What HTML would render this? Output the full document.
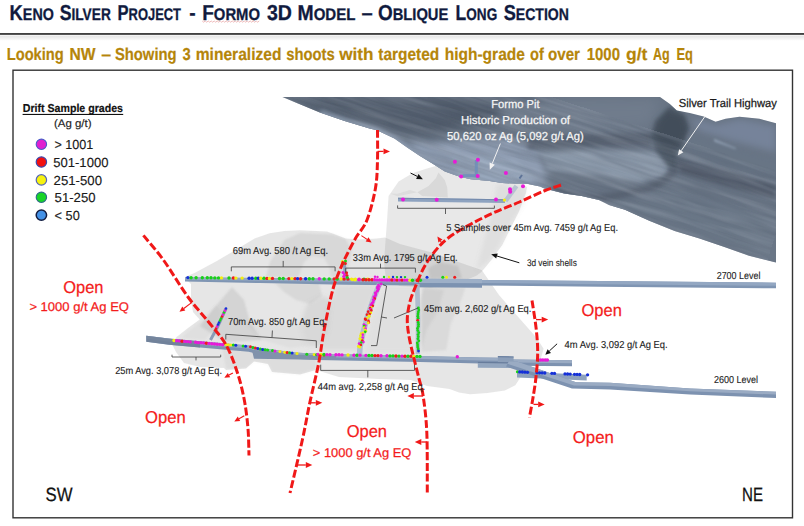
<!DOCTYPE html><html><head><meta charset="utf-8"><title>Keno Silver Project</title>
<style>html,body{margin:0;padding:0;background:#fff;overflow:hidden}svg{display:block}text{font-family:"Liberation Sans",sans-serif;white-space:pre;text-rendering:geometricPrecision}</style></head><body>
<svg width="804" height="526" viewBox="0 0 804 526">
<defs>
<filter id="b1" x="-20%" y="-20%" width="140%" height="140%"><feGaussianBlur stdDeviation="1"/></filter>
<filter id="b2" x="-20%" y="-20%" width="140%" height="140%"><feGaussianBlur stdDeviation="2"/></filter>
<filter id="b3" x="-20%" y="-20%" width="140%" height="140%"><feGaussianBlur stdDeviation="3.5"/></filter>
<filter id="b5" x="-30%" y="-30%" width="160%" height="160%"><feGaussianBlur stdDeviation="6"/></filter>
<filter id="soft" x="-5%" y="-5%" width="110%" height="110%"><feGaussianBlur stdDeviation="0.6"/></filter>
<filter id="tx" x="0" y="0" width="100%" height="100%"><feTurbulence type="fractalNoise" baseFrequency="0.012 0.16" numOctaves="3" seed="4" result="n"/><feColorMatrix type="matrix" values="0 0 0 0 0.1  0 0 0 0 0.13  0 0 0 0 0.18  1.6 0 0 0 -0.55"/></filter>
<filter id="tx2" x="0" y="0" width="100%" height="100%"><feTurbulence type="fractalNoise" baseFrequency="0.012 0.16" numOctaves="3" seed="11" result="n"/><feColorMatrix type="matrix" values="0 0 0 0 0.75  0 0 0 0 0.8  0 0 0 0 0.88  1.6 0 0 0 -0.6"/></filter>
<linearGradient id="hr" x1="0" y1="0" x2="0" y2="1"><stop offset="0" stop-color="#e4e4e4"/><stop offset="1" stop-color="#fbfbfb"/></linearGradient>

<clipPath id="tc"><polygon points="282.4,97 660,97 669.9,103.9 676.8,110.5 689.8,112.9 703.7,116.4 715.6,121.8 725.6,118.8 739.5,116.8 759.4,118.8 776,123.2 776,262.5 749,255.8 724.4,247 699.5,238.4 674.6,231 649.8,221 624.9,209.8 609,205 599,200 581.7,196 564.3,193.5 544.4,188.5 540,186.5 527,183.8 514.6,183.6 502.2,183 489.8,181 471,179.2 459.8,176.7 444.9,171.5 432.4,163.6 420,156 406.8,147.2 394.4,138.5 377,130.3 369.5,128.5 344.6,121 319.8,112.4"/></clipPath>
</defs>
<rect width="804" height="526" fill="#fff"/>
<text x="9.6" y="20.3" fill="#101a3e" stroke="#101a3e" stroke-width="0.3" font-weight="bold" textLength="44.2" lengthAdjust="spacingAndGlyphs"><tspan font-size="21.6">K</tspan><tspan font-size="16.8">ENO</tspan></text>
<text x="59.7" y="20.3" fill="#101a3e" stroke="#101a3e" stroke-width="0.3" font-weight="bold" textLength="51.1" lengthAdjust="spacingAndGlyphs"><tspan font-size="21.6">S</tspan><tspan font-size="16.8">ILVER</tspan></text>
<text x="117.5" y="20.3" fill="#101a3e" stroke="#101a3e" stroke-width="0.3" font-weight="bold" textLength="63.5" lengthAdjust="spacingAndGlyphs"><tspan font-size="21.6">P</tspan><tspan font-size="16.8">ROJECT</tspan></text>
<text x="189.2" y="20.3" font-size="21.6" fill="#101a3e" stroke="#101a3e" stroke-width="0.25" font-weight="bold" textLength="6.4" lengthAdjust="spacingAndGlyphs" >-</text>
<text x="202.2" y="20.3" fill="#101a3e" stroke="#101a3e" stroke-width="0.3" font-weight="bold" textLength="57.8" lengthAdjust="spacingAndGlyphs"><tspan font-size="21.6">F</tspan><tspan font-size="16.8">ORMO</tspan></text>
<text x="267" y="20.3" fill="#101a3e" stroke="#101a3e" stroke-width="0.3" font-weight="bold" font-size="21.6" textLength="25" lengthAdjust="spacingAndGlyphs">3D</text>
<text x="297.5" y="20.3" fill="#101a3e" stroke="#101a3e" stroke-width="0.3" font-weight="bold" textLength="57.9" lengthAdjust="spacingAndGlyphs"><tspan font-size="21.6">M</tspan><tspan font-size="16.8">ODEL</tspan></text>
<text x="361.6" y="20.3" font-size="21.6" fill="#101a3e" stroke="#101a3e" stroke-width="0.25" font-weight="bold" textLength="11.2" lengthAdjust="spacingAndGlyphs" >–</text>
<text x="378.0" y="20.3" fill="#101a3e" stroke="#101a3e" stroke-width="0.3" font-weight="bold" textLength="70.3" lengthAdjust="spacingAndGlyphs"><tspan font-size="21.6">O</tspan><tspan font-size="16.8">BLIQUE</tspan></text>
<text x="455.6" y="20.3" fill="#101a3e" stroke="#101a3e" stroke-width="0.3" font-weight="bold" textLength="41.6" lengthAdjust="spacingAndGlyphs"><tspan font-size="21.6">L</tspan><tspan font-size="16.8">ONG</tspan></text>
<text x="503.7" y="20.3" fill="#101a3e" stroke="#101a3e" stroke-width="0.3" font-weight="bold" textLength="65.3" lengthAdjust="spacingAndGlyphs"><tspan font-size="21.6">S</tspan><tspan font-size="16.8">ECTION</tspan></text>
<polyline points="202.2,21.0 203.7,22.2 205.2,21.0 206.7,22.2 208.2,21.0 209.7,22.2 211.2,21.0 212.7,22.2 214.2,21.0 215.7,22.2 217.2,21.0 218.7,22.2 220.2,21.0 221.7,22.2 223.2,21.0 224.7,22.2 226.2,21.0 227.7,22.2 229.2,21.0 230.7,22.2 232.2,21.0 233.7,22.2 235.2,21.0 236.7,22.2 238.2,21.0 239.7,22.2 241.2,21.0 242.7,22.2 244.2,21.0 245.7,22.2 247.2,21.0 248.7,22.2 250.2,21.0 251.7,22.2 253.2,21.0 254.7,22.2 256.2,21.0 257.7,22.2 259.2,21.0" fill="none" stroke="#e8a0a0" stroke-width="0.7"/>
<rect x="0" y="33.1" width="804" height="1.7" fill="#2e2e2e"/>
<rect x="0" y="35.6" width="804" height="4.8" fill="url(#hr)"/>
<text x="6.7" y="59.9" font-size="17.3" fill="#b5850a" stroke="#b5850a" stroke-width="0.2" font-weight="bold" textLength="57.1" lengthAdjust="spacingAndGlyphs" >Looking</text>
<text x="69.5" y="59.9" font-size="17.3" fill="#b5850a" stroke="#b5850a" stroke-width="0.2" font-weight="bold" textLength="26.0" lengthAdjust="spacingAndGlyphs" >NW</text>
<text x="101.2" y="59.9" font-size="17.3" fill="#b5850a" stroke="#b5850a" stroke-width="0.2" font-weight="bold" textLength="9.9" lengthAdjust="spacingAndGlyphs" >–</text>
<text x="114.9" y="59.9" font-size="17.3" fill="#b5850a" stroke="#b5850a" stroke-width="0.2" font-weight="bold" textLength="61.7" lengthAdjust="spacingAndGlyphs" >Showing</text>
<text x="182.5" y="59.9" font-size="17.3" fill="#b5850a" stroke="#b5850a" stroke-width="0.2" font-weight="bold" textLength="8.2" lengthAdjust="spacingAndGlyphs" >3</text>
<text x="195.7" y="59.9" font-size="17.3" fill="#b5850a" stroke="#b5850a" stroke-width="0.2" font-weight="bold" textLength="85.8" lengthAdjust="spacingAndGlyphs" >mineralized</text>
<text x="286.2" y="59.9" font-size="17.3" fill="#b5850a" stroke="#b5850a" stroke-width="0.2" font-weight="bold" textLength="48.5" lengthAdjust="spacingAndGlyphs" >shoots</text>
<text x="339.2" y="59.9" font-size="17.3" fill="#b5850a" stroke="#b5850a" stroke-width="0.2" font-weight="bold" textLength="34.3" lengthAdjust="spacingAndGlyphs" >with</text>
<text x="378.3" y="59.9" font-size="17.3" fill="#b5850a" stroke="#b5850a" stroke-width="0.2" font-weight="bold" textLength="60.9" lengthAdjust="spacingAndGlyphs" >targeted</text>
<text x="444.7" y="59.9" font-size="17.3" fill="#b5850a" stroke="#b5850a" stroke-width="0.2" font-weight="bold" textLength="80.2" lengthAdjust="spacingAndGlyphs" >high-grade</text>
<text x="530.0" y="59.9" font-size="17.3" fill="#b5850a" stroke="#b5850a" stroke-width="0.2" font-weight="bold" textLength="13.8" lengthAdjust="spacingAndGlyphs" >of</text>
<text x="548.0" y="59.9" font-size="17.3" fill="#b5850a" stroke="#b5850a" stroke-width="0.2" font-weight="bold" textLength="32.0" lengthAdjust="spacingAndGlyphs" >over</text>
<text x="586.7" y="59.9" font-size="17.3" fill="#b5850a" stroke="#b5850a" stroke-width="0.2" font-weight="bold" textLength="33.3" lengthAdjust="spacingAndGlyphs" >1000</text>
<text x="626.0" y="59.9" font-size="17.3" fill="#b5850a" stroke="#b5850a" stroke-width="0.2" font-weight="bold" textLength="21.4" lengthAdjust="spacingAndGlyphs" >g/t</text>
<text x="653.0" y="59.9" font-size="17.3" fill="#b5850a" stroke="#b5850a" stroke-width="0.2" font-weight="bold" textLength="16.7" lengthAdjust="spacingAndGlyphs" >Ag</text>
<text x="676.5" y="59.9" font-size="17.3" fill="#b5850a" stroke="#b5850a" stroke-width="0.2" font-weight="bold" textLength="16.5" lengthAdjust="spacingAndGlyphs" >Eq</text>
<rect x="13" y="70.2" width="779.5" height="447.6" fill="#fff" stroke="#333" stroke-width="1.4"/>
<g id="shells">
<polygon points="388.6,196 398.6,181.4 413,173 427,168.6 436,166 460,175 482,178 502,180 521,183.5 527,187 526,193 523,201 519,211.4 510.7,228 502.3,245 491.8,259.5 481.4,272 476,276 455,284 430,288 400,286 386,280 384,262 385.7,238.6 387,221.4" fill="#8c8c8c" fill-opacity="0.205" filter="url(#soft)" />
<polygon points="185,277 195,272.8 217.3,260.8 239.7,247.4 254.6,238.4 269.6,233.2 284.5,231 300,230.2 327,231.5 334,234 345.6,238.6 359.5,239.4 377,238.6 385,237.5 400,244 430,252 464,264 481.7,270 499,295 516,314.6 533.7,334.4 540.4,343.7 543.6,348.7 541,358 530,366 522,375 515.3,385.3 504.8,390.5 487.4,393.1 470,394.2 459,392.5 449.5,389 427,386 411,380 379,379 339,377 316,370 300,374.5 272,372 268,364 254,361.5 246,368.5 226,370 224,368 200,367 184,363 176,352 172,344 176.6,337 188,328 199.7,319.4 193,312 191,300 191,284 186,279" fill="#8c8c8c" fill-opacity="0.215" filter="url(#soft)" />
<polygon points="284.5,240 300,233 333,234.5 345.6,239 352,250 346,277 266,277 270,262" fill="#8c8c8c" fill-opacity="0.17" filter="url(#b1)" />
<polygon points="298,278 304,262 312,256 324,258 330,268 331,278" fill="#ffffff" fill-opacity="0.3" filter="url(#b1)" />
<polygon points="232,287 244,300 250,322 262,340 225,342 200,326 214,308" fill="#8c8c8c" fill-opacity="0.2" filter="url(#b1)" />
<polygon points="275,283 319,283 322,296 310,304 296,300 284,292" fill="#8c8c8c" fill-opacity="0.16" filter="url(#b1)" />
<polygon points="307,304 322,296 331,300 328,330 322,346 306,346 300,325" fill="#8c8c8c" fill-opacity="0.16" filter="url(#b2)" />
<polygon points="246,324 300,325 306,346 290,348 262,340" fill="#8c8c8c" fill-opacity="0.08" filter="url(#b1)" />
<polygon points="336,286 378,284 366,315 360,350 322,350 328,310" fill="#8c8c8c" fill-opacity="0.12" filter="url(#b2)" />
<polygon points="386,286 414,286 414,352 364,352 372,318" fill="#8c8c8c" fill-opacity="0.07" filter="url(#b2)" />
<polygon points="424.8,284 465.4,288 459.8,303.4 450.8,323.6 446.3,350 422,352 420,300" fill="#8c8c8c" fill-opacity="0.14" filter="url(#b1)" />
<polygon points="422,288 444,290 437.4,312.4 426.2,330.3 421.7,350" fill="#8c8c8c" fill-opacity="0.12" filter="url(#b1)" />
<polygon points="428,268 440,262 458,266 462,278 430,279" fill="#8c8c8c" fill-opacity="0.22" filter="url(#b1)" />
<polygon points="438.5,172.5 444.7,180 447.2,187.3 447.8,197.5 422.3,196 417.3,192.3 428.6,186 436,178" fill="#8c8c8c" fill-opacity="0.17" filter="url(#soft)" />
<polygon points="390,193.4 397.4,196.2 417.3,192.3 410,190 397.4,193.8" fill="#8c8c8c" fill-opacity="0.12" filter="url(#soft)" />
<polygon points="497,184 526,188 524,204 510,224 499,246 488,262 476,270 484,240 492,212" fill="#8c8c8c" fill-opacity="0.1" filter="url(#b2)" />
<polygon points="171,343 222,346 226,369 246,368 254,361 268,364 272,372 300,374 316,369 316,356 250,350 222,348" fill="#8c8c8c" fill-opacity="0.1" filter="url(#b1)" />
<polygon points="190,330 204,318 216,305 222,312 214,330 205,340 181,338" fill="#8c8c8c" fill-opacity="0.08" filter="url(#b1)" />
</g>
<g id="terrain">
<polygon points="282.4,97 660,97 669.9,103.9 676.8,110.5 689.8,112.9 703.7,116.4 715.6,121.8 725.6,118.8 739.5,116.8 759.4,118.8 776,123.2 776,262.5 749,255.8 724.4,247 699.5,238.4 674.6,231 649.8,221 624.9,209.8 609,205 599,200 581.7,196 564.3,193.5 544.4,188.5 540,186.5 527,183.8 514.6,183.6 502.2,183 489.8,181 471,179.2 459.8,176.7 444.9,171.5 432.4,163.6 420,156 406.8,147.2 394.4,138.5 377,130.3 369.5,128.5 344.6,121 319.8,112.4" fill="#687484"/>
<g clip-path="url(#tc)">
<polygon points="282,97 560,97 500,120 430,136 385,130 340,119 300,104" fill="#4e5967" filter="url(#b5)"/>
<polygon points="500,100 660,99 650,126 560,134 500,128" fill="#707c8c" filter="url(#b5)"/>
<path d="M320,113 L345,122 L377,131 L395,140 L420,157 L445,172 L482,181 L520,184 L545,190 L582,197 L600,201" stroke="#8c9bb0" stroke-width="7" fill="none" filter="url(#b2)"/>
<polygon points="408,140 430,143 470,140 510,140 540,152 548,182 520,186 480,182 455,179 440,172 420,158" fill="#8f9db2" filter="url(#b3)"/>
<polygon points="450,156 515,160 535,180 500,182 462,179" fill="#98a7bc" filter="url(#b2)"/>
<polygon points="528,138 600,134 652,133 652,146 600,146 528,149" fill="#566170" filter="url(#b2)"/>
<polygon points="538,153 600,150 655,152 672,162 664,176 640,182 600,176 548,170" fill="#8a98a9" filter="url(#b2)"/>
<polygon points="669.9,106.3 684.4,114.4 689.2,127.3 684,143.5 676,156.4 681,164.5 674,172 666.5,165 656,150 650.5,137 655.5,120.8" fill="#4a5462" filter="url(#b2)"/>
<polygon points="668,112 683,118 686,130 680,144 670,154 660,146 656,134 660,122" fill="#434d5a" filter="url(#b2)"/>
<path d="M676,168 Q668,182 645,189 Q620,196 598,198 Q575,196 552,187" stroke="#56616f" stroke-width="7" fill="none" filter="url(#b2)"/>
<polygon points="676,158 730,172 776,186 776,199 726,186 680,173" fill="#4f5967" filter="url(#b2)"/>
<polygon points="692,118 716,125 740,119 776,126 776,152 730,140 698,130" fill="#76839a" filter="url(#b3)"/>
<polygon points="714,139 736,148 735,151.5 714,142.5" fill="#9aa9bd" filter="url(#b1)"/>
<polygon points="690,134 776,160 776,178 720,165 688,150" fill="#687485" filter="url(#b2)"/>
<polygon points="604,206 672,190 776,214 776,263" fill="#6b7787" filter="url(#b2)"/>
<rect x="280" y="95" width="500" height="170" filter="url(#tx)" opacity="0.5" transform="rotate(18 530 180)"/>
<rect x="280" y="95" width="500" height="170" filter="url(#tx2)" opacity="0.22" transform="rotate(18 530 180)"/>
</g></g>
<polygon points="185.0,277.3 260.0,278.0 345.0,278.8 414.0,279.4 482.0,280.0 482.0,280.0 600.0,281.1 776.0,282.7 776.0,288.3 600.0,286.7 482.0,285.6 482.0,285.6 414.0,285.4 345.0,284.8 260.0,283.1 185.0,281.6" fill="#7f95b3"/>
<polygon points="185.0,277.3 260.0,278.0 345.0,278.8 414.0,279.4 482.0,280.0 482.0,280.0 600.0,281.1 776.0,282.7 776.0,285.8 600.0,284.2 482.0,283.1 482.0,283.1 414.0,282.7 345.0,282.1 260.0,280.8 185.0,279.7" fill="#93a7c2"/>
<polygon points="414,278.4 482,279 482,283.5 414,283" fill="#9dafc7"/>
<polygon points="414,283 482,283.5 482,287.8 414,287.2" fill="#7c92b1"/>
<polygon points="414.8,284 419.6,284 420.4,320 420,354 415.6,354 415.8,320" fill="#aab8cc" opacity="0.92"/>
<polygon points="146.3,335.7 168.6,338.6 223,343.3 248.6,345.4 260,348 294.3,352.4 317,353.8 420,355.9 480,357.4 498,357.8 498,363.8 480,363.6 420,361.9 317,360 294.3,358.8 260,354.6 248.6,351.8 223,349.4 168.6,344.8 146.3,341.8" fill="#7d92b0"/>
<polygon points="146.3,335.7 168.6,338.6 223,343.3 248.6,345.4 260,348.0 294.3,352.4 317,353.8 420,355.9 480,357.4 498,357.8 498.0,360.8 480.0,360.5 420.0,358.9 317.0,356.9 294.3,355.6 260.0,351.3 248.6,348.6 223.0,346.4 168.6,341.7 146.3,338.8" fill="#9aabc3"/>
<polygon points="146.3,335.7 172,339 200,341.4 200,347.4 172,345 146.3,341.8" fill="#6f7f96" opacity="0.85"/>
<polygon points="252,350.5 262,350 296,354.5 336,356 336,360 300,359.6 254,358.8" fill="#8092ab"/>
<polygon points="498,357.8 513.6,359.6 572,360.2 572,366.3 513.6,365.8 498,363.8" fill="#7d92b0"/>
<polygon points="498,357.8 513.6,359.6 572,360.2 572,363.2 513.6,362.6 498,360.8" fill="#9aabc3"/>
<polygon points="497.9,356 513.6,356.4 513.6,362.6 497.9,362.2" fill="#8c9fb9"/>
<polygon points="497.9,356 513.6,356.4 513.6,357.6 497.9,357.2" fill="#6d82a2"/>
<polygon points="477.8,361.8 511.8,362.4 511.8,368 477.8,367.7" fill="#93a6bf"/>
<polygon points="477.8,361.8 511.8,362.4 511.8,363.6 477.8,363" fill="#677c9c"/>
<polygon points="517,371.4 586.7,374.8 586.7,380.6 517,377.6" fill="#8ea2bd"/>
<polygon points="509,361.2 517,361.6 576,382.2 610,382.8 690,388.5 776,391.7 776,398.1 690,394.4 610,389.6 572,388.6 506,366.5" fill="#7d92b0"/>
<polygon points="509,361.2 517,361.6 576,382.2 610,382.8 690,388.5 776,391.7 776,394.6 690,391.3 610,386 574,385.4 507.5,363.8" fill="#9aabc3"/>
<path d="M379.5,284 Q366,315 360,347 L359.5,355" stroke="#a9b8cf" stroke-width="5.5" fill="none" opacity="0.85"/>
<path d="M344.4,262 L345.2,279" stroke="#8da1bd" stroke-width="3" fill="none"/>
<path d="M210.5,340 L217.5,327 L226,308.5" stroke="#8a9bb5" stroke-width="3" fill="none"/>
<polygon points="398,197.8 505,199.2 505,202.9 398,201.5" fill="#8ea3c0"/><polygon points="398,197.8 505,199.2 505,200.2 398,198.8" fill="#7389ab"/>
<path d="M505.5,201 L516.5,186" stroke="#b4c0d2" stroke-width="4.5" fill="none" opacity="0.9"/>
<path d="M519.5,178.5 L522,175" stroke="#5d7397" stroke-width="2" fill="none"/>
<rect x="474.8" y="160" width="3" height="17" fill="#6f8db8" opacity="0.85"/>
<rect x="462.5" y="174.2" width="15.3" height="3" fill="#6f8db8" opacity="0.85"/>
<g id="dots">
<circle cx="187.9" cy="277.6" r="1.7" fill="#1430d8"/>
<circle cx="191.1" cy="277.7" r="1.7" fill="#18d018"/>
<circle cx="196.1" cy="277.7" r="1.7" fill="#18d018"/>
<circle cx="202.3" cy="277.8" r="1.7" fill="#18d018"/>
<circle cx="207.3" cy="277.8" r="1.7" fill="#18d018"/>
<circle cx="211.0" cy="277.8" r="1.7" fill="#18d018"/>
<circle cx="214.8" cy="277.9" r="1.7" fill="#18d018"/>
<circle cx="218.5" cy="277.9" r="1.7" fill="#18d018"/>
<circle cx="221.5" cy="277.9" r="1.7" fill="#f2ee10"/>
<circle cx="229.0" cy="278.0" r="1.7" fill="#18d018"/>
<circle cx="233.4" cy="278.0" r="1.7" fill="#ee1c1c"/>
<circle cx="235.9" cy="278.1" r="1.7" fill="#f2ee10"/>
<circle cx="242.1" cy="278.1" r="1.7" fill="#f2ee10"/>
<circle cx="249.1" cy="278.2" r="1.7" fill="#1430d8"/>
<circle cx="252.1" cy="278.2" r="1.7" fill="#1430d8"/>
<circle cx="255.8" cy="278.3" r="1.7" fill="#18d018"/>
<circle cx="258.3" cy="278.3" r="1.7" fill="#1430d8"/>
<circle cx="260.8" cy="278.3" r="1.7" fill="#f2ee10"/>
<circle cx="264.0" cy="278.3" r="1.7" fill="#18d018"/>
<circle cx="267.0" cy="278.4" r="1.7" fill="#ee1c1c"/>
<circle cx="269.5" cy="278.4" r="1.7" fill="#f2ee10"/>
<circle cx="272.5" cy="278.4" r="1.7" fill="#ee1c1c"/>
<circle cx="279.5" cy="278.5" r="1.7" fill="#18d018"/>
<circle cx="283.2" cy="278.5" r="1.7" fill="#18d018"/>
<circle cx="288.9" cy="278.6" r="1.7" fill="#ee1c1c"/>
<circle cx="291.9" cy="278.6" r="1.7" fill="#f2ee10"/>
<circle cx="295.1" cy="278.6" r="1.7" fill="#ee1c1c"/>
<circle cx="297.6" cy="278.6" r="1.7" fill="#1430d8"/>
<circle cx="300.6" cy="278.7" r="1.7" fill="#ee1c1c"/>
<circle cx="305.6" cy="278.7" r="1.7" fill="#1430d8"/>
<circle cx="309.3" cy="278.7" r="1.7" fill="#18d018"/>
<circle cx="313.0" cy="278.8" r="1.7" fill="#18d018"/>
<circle cx="319.3" cy="278.8" r="1.7" fill="#e81ad8"/>
<circle cx="324.2" cy="278.9" r="1.7" fill="#18d018"/>
<circle cx="329.2" cy="278.9" r="1.7" fill="#18d018"/>
<circle cx="334.2" cy="279.0" r="1.7" fill="#ee1c1c"/>
<circle cx="337.2" cy="279.0" r="1.7" fill="#18d018"/>
<circle cx="341.1" cy="279.0" r="1.7" fill="#f2ee10"/>
<circle cx="344.1" cy="279.1" r="1.7" fill="#ee1c1c"/>
<circle cx="347.9" cy="279.1" r="1.7" fill="#ee1c1c"/>
<circle cx="351.6" cy="279.1" r="1.7" fill="#f2ee10"/>
<circle cx="355.3" cy="279.2" r="1.7" fill="#f2ee10"/>
<circle cx="359.1" cy="279.2" r="1.7" fill="#e81ad8"/>
<circle cx="364.0" cy="279.2" r="1.7" fill="#18d018"/>
<circle cx="367.8" cy="279.3" r="1.7" fill="#f2ee10"/>
<circle cx="352.5" cy="279.6" r="1.7" fill="#f2ee10"/>
<circle cx="355.0" cy="279.7" r="1.7" fill="#f2ee10"/>
<circle cx="359.0" cy="279.7" r="1.7" fill="#e81ad8"/>
<circle cx="363.0" cy="279.7" r="1.7" fill="#ee1c1c"/>
<circle cx="366.0" cy="279.8" r="1.7" fill="#ee1c1c"/>
<circle cx="369.0" cy="279.8" r="1.7" fill="#ee1c1c"/>
<circle cx="372.0" cy="279.8" r="1.7" fill="#ee1c1c"/>
<circle cx="374.5" cy="279.8" r="1.7" fill="#e81ad8"/>
<circle cx="377.0" cy="279.9" r="1.7" fill="#e81ad8"/>
<circle cx="379.5" cy="279.9" r="1.7" fill="#e81ad8"/>
<circle cx="382.0" cy="279.9" r="1.7" fill="#e81ad8"/>
<circle cx="384.5" cy="279.9" r="1.7" fill="#e81ad8"/>
<circle cx="387.0" cy="280.0" r="1.7" fill="#e81ad8"/>
<circle cx="389.5" cy="280.0" r="1.7" fill="#e81ad8"/>
<circle cx="392.0" cy="280.0" r="1.7" fill="#ee1c1c"/>
<circle cx="394.5" cy="280.0" r="1.7" fill="#e81ad8"/>
<circle cx="397.0" cy="280.1" r="1.7" fill="#ee1c1c"/>
<circle cx="399.5" cy="280.1" r="1.7" fill="#e81ad8"/>
<circle cx="402.0" cy="280.1" r="1.7" fill="#ee1c1c"/>
<circle cx="404.5" cy="280.1" r="1.7" fill="#e81ad8"/>
<circle cx="407.0" cy="280.1" r="1.7" fill="#e81ad8"/>
<circle cx="410.0" cy="280.2" r="1.7" fill="#f2ee10"/>
<circle cx="412.5" cy="280.2" r="1.7" fill="#18d018"/>
<circle cx="417.3" cy="280.2" r="1.7" fill="#ee1c1c"/>
<circle cx="420.4" cy="280.3" r="1.7" fill="#18d018"/>
<circle cx="375.0" cy="276.8" r="1.2" fill="#e81ad8"/>
<circle cx="377.5" cy="276.9" r="1.2" fill="#e81ad8"/>
<circle cx="384.0" cy="276.9" r="1.2" fill="#18d018"/>
<circle cx="389.0" cy="277.0" r="1.2" fill="#f2ee10"/>
<circle cx="393.0" cy="277.0" r="1.2" fill="#1430d8"/>
<circle cx="397.0" cy="277.1" r="1.2" fill="#18d018"/>
<circle cx="401.0" cy="277.1" r="1.2" fill="#1430d8"/>
<circle cx="405.0" cy="277.1" r="1.2" fill="#18d018"/>
<circle cx="427.0" cy="277.2" r="1.5" fill="#1430d8"/>
<circle cx="442.8" cy="277.2" r="1.5" fill="#18d018"/>
<circle cx="446.5" cy="277.2" r="1.5" fill="#f2ee10"/>
<circle cx="454.7" cy="277.2" r="1.5" fill="#ee1c1c"/>
<circle cx="174.0" cy="340.5" r="1.7" fill="#f2ee10"/>
<circle cx="176.7" cy="340.7" r="1.7" fill="#e81ad8"/>
<circle cx="179.4" cy="340.9" r="1.7" fill="#e81ad8"/>
<circle cx="182.1" cy="341.2" r="1.7" fill="#ee1c1c"/>
<circle cx="184.8" cy="341.4" r="1.7" fill="#e81ad8"/>
<circle cx="187.5" cy="341.6" r="1.7" fill="#e81ad8"/>
<circle cx="190.2" cy="341.9" r="1.7" fill="#e81ad8"/>
<circle cx="195.6" cy="342.3" r="1.7" fill="#e81ad8"/>
<circle cx="198.3" cy="342.6" r="1.7" fill="#e81ad8"/>
<circle cx="201.0" cy="342.8" r="1.7" fill="#e81ad8"/>
<circle cx="203.7" cy="343.0" r="1.7" fill="#e81ad8"/>
<circle cx="206.4" cy="343.3" r="1.7" fill="#ee1c1c"/>
<circle cx="209.1" cy="343.5" r="1.7" fill="#e81ad8"/>
<circle cx="211.8" cy="343.7" r="1.7" fill="#e81ad8"/>
<circle cx="214.5" cy="344.0" r="1.7" fill="#e81ad8"/>
<circle cx="217.2" cy="344.2" r="1.7" fill="#e81ad8"/>
<circle cx="219.9" cy="344.4" r="1.7" fill="#e81ad8"/>
<circle cx="222.6" cy="344.7" r="1.7" fill="#e81ad8"/>
<circle cx="226.0" cy="344.5" r="1.5" fill="#f2ee10"/>
<circle cx="228.4" cy="344.7" r="1.5" fill="#f2ee10"/>
<circle cx="230.9" cy="344.9" r="1.5" fill="#f2ee10"/>
<circle cx="233.3" cy="345.1" r="1.5" fill="#18d018"/>
<circle cx="235.8" cy="345.3" r="1.5" fill="#1430d8"/>
<circle cx="243.1" cy="346.0" r="1.5" fill="#18d018"/>
<circle cx="245.6" cy="346.2" r="1.5" fill="#1430d8"/>
<circle cx="250.5" cy="346.8" r="1.5" fill="#ee1c1c"/>
<circle cx="252.9" cy="347.4" r="1.5" fill="#18d018"/>
<circle cx="255.4" cy="348.0" r="1.5" fill="#ee1c1c"/>
<circle cx="257.8" cy="348.5" r="1.5" fill="#1430d8"/>
<circle cx="260.3" cy="349.0" r="1.5" fill="#18d018"/>
<circle cx="262.7" cy="349.4" r="1.5" fill="#1430d8"/>
<circle cx="265.2" cy="349.7" r="1.5" fill="#18d018"/>
<circle cx="267.6" cy="350.0" r="1.5" fill="#18d018"/>
<circle cx="272.5" cy="350.6" r="1.5" fill="#18d018"/>
<circle cx="275.0" cy="350.9" r="1.5" fill="#e81ad8"/>
<circle cx="279.9" cy="351.6" r="1.5" fill="#f2ee10"/>
<circle cx="284.8" cy="352.2" r="1.5" fill="#f2ee10"/>
<circle cx="287.2" cy="352.5" r="1.5" fill="#ee1c1c"/>
<circle cx="289.7" cy="352.8" r="1.5" fill="#18d018"/>
<circle cx="292.1" cy="353.1" r="1.5" fill="#1430d8"/>
<circle cx="297.0" cy="353.6" r="1.5" fill="#f2ee10"/>
<circle cx="306.8" cy="354.2" r="1.5" fill="#18d018"/>
<circle cx="314.2" cy="354.6" r="1.5" fill="#f2ee10"/>
<circle cx="316.6" cy="354.8" r="1.5" fill="#18d018"/>
<circle cx="321.5" cy="354.9" r="1.5" fill="#f2ee10"/>
<circle cx="324.0" cy="354.9" r="1.5" fill="#ee1c1c"/>
<circle cx="318.0" cy="354.4" r="1.7" fill="#e81ad8"/>
<circle cx="321.0" cy="354.5" r="1.7" fill="#f2ee10"/>
<circle cx="324.0" cy="354.5" r="1.7" fill="#18d018"/>
<circle cx="327.0" cy="354.6" r="1.7" fill="#e81ad8"/>
<circle cx="330.0" cy="354.7" r="1.7" fill="#e81ad8"/>
<circle cx="336.0" cy="354.8" r="1.7" fill="#e81ad8"/>
<circle cx="339.0" cy="354.8" r="1.7" fill="#e81ad8"/>
<circle cx="342.0" cy="354.9" r="1.7" fill="#e81ad8"/>
<circle cx="348.0" cy="355.0" r="1.7" fill="#f2ee10"/>
<circle cx="354.0" cy="355.2" r="1.7" fill="#e81ad8"/>
<circle cx="357.0" cy="355.2" r="1.7" fill="#18d018"/>
<circle cx="360.0" cy="355.3" r="1.7" fill="#e81ad8"/>
<circle cx="366.0" cy="355.4" r="1.7" fill="#e81ad8"/>
<circle cx="369.0" cy="355.5" r="1.7" fill="#18d018"/>
<circle cx="372.0" cy="355.5" r="1.7" fill="#18d018"/>
<circle cx="375.0" cy="355.6" r="1.7" fill="#ee1c1c"/>
<circle cx="378.0" cy="355.6" r="1.7" fill="#ee1c1c"/>
<circle cx="381.0" cy="355.7" r="1.7" fill="#e81ad8"/>
<circle cx="387.0" cy="355.8" r="1.7" fill="#e81ad8"/>
<circle cx="390.0" cy="355.9" r="1.7" fill="#18d018"/>
<circle cx="393.0" cy="355.9" r="1.7" fill="#18d018"/>
<circle cx="396.0" cy="356.0" r="1.7" fill="#ee1c1c"/>
<circle cx="399.0" cy="356.1" r="1.7" fill="#18d018"/>
<circle cx="402.0" cy="356.1" r="1.7" fill="#e81ad8"/>
<circle cx="405.0" cy="356.2" r="1.7" fill="#ee1c1c"/>
<circle cx="408.0" cy="356.3" r="1.7" fill="#18d018"/>
<circle cx="411.0" cy="356.3" r="1.7" fill="#ee1c1c"/>
<circle cx="414.0" cy="356.4" r="1.7" fill="#f2ee10"/>
<circle cx="417.0" cy="356.4" r="1.7" fill="#18d018"/>
<circle cx="420.0" cy="356.5" r="1.7" fill="#18d018"/>
<circle cx="457.3" cy="356.7" r="1.7" fill="#e81ad8"/>
<circle cx="381.2" cy="283.9" r="1.35" fill="#e81ad8"/>
<circle cx="378.4" cy="285.1" r="1.35" fill="#e81ad8"/>
<circle cx="379.3" cy="286.5" r="1.35" fill="#e81ad8"/>
<circle cx="377.4" cy="287.1" r="1.35" fill="#e81ad8"/>
<circle cx="377.5" cy="288.3" r="1.35" fill="#e81ad8"/>
<circle cx="378.6" cy="288.9" r="1.35" fill="#e81ad8"/>
<circle cx="377.7" cy="290.4" r="1.35" fill="#e81ad8"/>
<circle cx="377.1" cy="291.3" r="1.35" fill="#e81ad8"/>
<circle cx="375.3" cy="292.8" r="1.35" fill="#e81ad8"/>
<circle cx="375.8" cy="293.5" r="1.35" fill="#e81ad8"/>
<circle cx="375.8" cy="294.7" r="1.35" fill="#e81ad8"/>
<circle cx="375.4" cy="295.7" r="1.35" fill="#e81ad8"/>
<circle cx="373.8" cy="296.9" r="1.35" fill="#e81ad8"/>
<circle cx="374.7" cy="297.7" r="1.35" fill="#e81ad8"/>
<circle cx="374.7" cy="298.7" r="1.35" fill="#ee1c1c"/>
<circle cx="373.3" cy="299.6" r="1.35" fill="#e81ad8"/>
<circle cx="373.7" cy="300.6" r="1.35" fill="#e81ad8"/>
<circle cx="372.9" cy="302.3" r="1.35" fill="#e81ad8"/>
<circle cx="371.9" cy="303.5" r="1.35" fill="#e81ad8"/>
<circle cx="372.1" cy="303.7" r="1.35" fill="#e81ad8"/>
<circle cx="370.8" cy="305.1" r="1.35" fill="#e81ad8"/>
<circle cx="372.8" cy="305.8" r="1.35" fill="#ee1c1c"/>
<circle cx="371.2" cy="307.6" r="1.35" fill="#f2ee10"/>
<circle cx="370.1" cy="308.2" r="1.35" fill="#ee1c1c"/>
<circle cx="370.5" cy="309.3" r="1.35" fill="#e81ad8"/>
<circle cx="371.3" cy="310.4" r="1.35" fill="#ee1c1c"/>
<circle cx="368.2" cy="311.7" r="1.35" fill="#ee1c1c"/>
<circle cx="370.8" cy="312.9" r="1.35" fill="#f2ee10"/>
<circle cx="369.6" cy="314.0" r="1.35" fill="#ee1c1c"/>
<circle cx="367.0" cy="314.7" r="1.35" fill="#ee1c1c"/>
<circle cx="368.8" cy="315.8" r="1.35" fill="#f2ee10"/>
<circle cx="369.3" cy="316.5" r="1.35" fill="#f2ee10"/>
<circle cx="367.0" cy="318.3" r="1.35" fill="#f2ee10"/>
<circle cx="365.1" cy="318.9" r="1.35" fill="#ee1c1c"/>
<circle cx="365.8" cy="319.7" r="1.35" fill="#ee1c1c"/>
<circle cx="368.5" cy="320.9" r="1.35" fill="#ee1c1c"/>
<circle cx="368.8" cy="322.4" r="1.35" fill="#ee1c1c"/>
<circle cx="368.2" cy="322.9" r="1.35" fill="#f2ee10"/>
<circle cx="364.0" cy="324.5" r="1.35" fill="#e81ad8"/>
<circle cx="365.4" cy="325.5" r="1.35" fill="#e81ad8"/>
<circle cx="364.1" cy="326.1" r="1.35" fill="#18d018"/>
<circle cx="364.2" cy="327.6" r="1.35" fill="#f2ee10"/>
<circle cx="365.5" cy="328.7" r="1.35" fill="#e81ad8"/>
<circle cx="365.0" cy="330.0" r="1.35" fill="#f2ee10"/>
<circle cx="366.0" cy="331.1" r="1.35" fill="#f2ee10"/>
<circle cx="365.2" cy="331.8" r="1.35" fill="#18d018"/>
<circle cx="363.0" cy="332.9" r="1.35" fill="#f2ee10"/>
<circle cx="361.1" cy="333.6" r="1.35" fill="#f2ee10"/>
<circle cx="362.7" cy="334.7" r="1.35" fill="#e81ad8"/>
<circle cx="360.4" cy="335.7" r="1.35" fill="#f2ee10"/>
<circle cx="362.7" cy="337.7" r="1.35" fill="#e81ad8"/>
<circle cx="359.8" cy="338.7" r="1.35" fill="#f2ee10"/>
<circle cx="361.4" cy="339.6" r="1.35" fill="#f2ee10"/>
<circle cx="362.3" cy="340.5" r="1.35" fill="#ee1c1c"/>
<circle cx="363.4" cy="342.1" r="1.35" fill="#e81ad8"/>
<circle cx="361.2" cy="342.5" r="1.35" fill="#18d018"/>
<circle cx="359.1" cy="343.6" r="1.35" fill="#e81ad8"/>
<circle cx="360.8" cy="345.0" r="1.35" fill="#ee1c1c"/>
<circle cx="358.2" cy="346.4" r="1.35" fill="#f2ee10"/>
<circle cx="359.8" cy="347.2" r="1.35" fill="#f2ee10"/>
<circle cx="418.4" cy="308.0" r="1.4" fill="#18d018"/>
<circle cx="418.8" cy="310.1" r="1.4" fill="#18d018"/>
<circle cx="418.3" cy="312.1" r="1.4" fill="#18d018"/>
<circle cx="418.0" cy="314.1" r="1.4" fill="#18d018"/>
<circle cx="417.8" cy="316.2" r="1.4" fill="#18d018"/>
<circle cx="418.1" cy="318.2" r="1.4" fill="#18d018"/>
<circle cx="417.7" cy="320.3" r="1.4" fill="#ee1c1c"/>
<circle cx="418.2" cy="322.4" r="1.4" fill="#18d018"/>
<circle cx="418.5" cy="324.4" r="1.4" fill="#18d018"/>
<circle cx="418.4" cy="326.4" r="1.4" fill="#18d018"/>
<circle cx="417.5" cy="328.5" r="1.4" fill="#18d018"/>
<circle cx="417.8" cy="330.6" r="1.4" fill="#18d018"/>
<circle cx="418.8" cy="332.6" r="1.4" fill="#18d018"/>
<circle cx="418.0" cy="334.6" r="1.4" fill="#18d018"/>
<circle cx="418.3" cy="336.7" r="1.4" fill="#18d018"/>
<circle cx="417.9" cy="338.8" r="1.4" fill="#18d018"/>
<circle cx="418.8" cy="340.8" r="1.4" fill="#18d018"/>
<circle cx="417.3" cy="342.9" r="1.4" fill="#18d018"/>
<circle cx="417.6" cy="344.9" r="1.4" fill="#18d018"/>
<circle cx="417.7" cy="346.9" r="1.4" fill="#18d018"/>
<circle cx="418.2" cy="349.0" r="1.4" fill="#18d018"/>
<circle cx="418.5" cy="351.1" r="1.4" fill="#1430d8"/>
<circle cx="342.3" cy="261.5" r="1.5" fill="#f2ee10"/>
<circle cx="345.5" cy="261.0" r="1.5" fill="#18d018"/>
<circle cx="345.3" cy="263.4" r="1.5" fill="#ee1c1c"/>
<circle cx="343.0" cy="263.6" r="1.5" fill="#18d018"/>
<circle cx="343.0" cy="272.5" r="1.5" fill="#e81ad8"/>
<circle cx="344.6" cy="274.5" r="1.5" fill="#e81ad8"/>
<circle cx="343.6" cy="276.6" r="1.5" fill="#e81ad8"/>
<circle cx="346.6" cy="272.8" r="1.5" fill="#ee1c1c"/>
<circle cx="347.0" cy="275.5" r="1.5" fill="#ee1c1c"/>
<circle cx="347.4" cy="277.4" r="1.5" fill="#18d018"/>
<circle cx="216.0" cy="328.5" r="1.3" fill="#ee1c1c"/>
<circle cx="217.0" cy="326.5" r="1.3" fill="#e81ad8"/>
<circle cx="218.0" cy="324.5" r="1.3" fill="#1430d8"/>
<circle cx="219.0" cy="322.5" r="1.3" fill="#1430d8"/>
<circle cx="220.0" cy="320.5" r="1.3" fill="#18d018"/>
<circle cx="221.0" cy="318.5" r="1.3" fill="#18d018"/>
<circle cx="222.0" cy="316.5" r="1.3" fill="#ee1c1c"/>
<circle cx="223.0" cy="314.5" r="1.3" fill="#e81ad8"/>
<circle cx="224.0" cy="312.5" r="1.3" fill="#18d018"/>
<circle cx="225.0" cy="310.5" r="1.3" fill="#e81ad8"/>
<circle cx="226.0" cy="308.5" r="1.3" fill="#1430d8"/>
<circle cx="454.9" cy="161.8" r="2.0" fill="#e81ad8"/>
<circle cx="477.9" cy="159.7" r="2.0" fill="#e81ad8"/>
<circle cx="461.1" cy="176.4" r="2.0" fill="#e81ad8"/>
<circle cx="477.7" cy="176.1" r="2.0" fill="#e81ad8"/>
<circle cx="505.9" cy="173.0" r="2.0" fill="#e81ad8"/>
<circle cx="523.0" cy="186.3" r="2.0" fill="#e81ad8"/>
<circle cx="510.0" cy="189.2" r="2.0" fill="#e81ad8"/>
<circle cx="510.2" cy="191.7" r="2.0" fill="#e81ad8"/>
<circle cx="436.7" cy="199.8" r="2.0" fill="#e81ad8"/>
<circle cx="496.0" cy="199.6" r="2.0" fill="#e81ad8"/>
<circle cx="403.0" cy="199.6" r="2.0" fill="#e81ad8"/>
<circle cx="504.4" cy="200.1" r="1.6" fill="#f2ee10"/>
<circle cx="538.5" cy="360.0" r="1.5" fill="#18d018"/>
<circle cx="540.5" cy="360.0" r="1.8" fill="#e81ad8"/>
<circle cx="542.8" cy="360.0" r="1.8" fill="#e81ad8"/>
<circle cx="545.2" cy="360.0" r="1.8" fill="#e81ad8"/>
<circle cx="547.3" cy="360.0" r="1.8" fill="#e81ad8"/>
<circle cx="517.4" cy="371.8" r="1.5" fill="#18d018"/>
<circle cx="519.7" cy="371.9" r="1.65" fill="#1430d8"/>
<circle cx="522.3" cy="372.0" r="1.65" fill="#1430d8"/>
<circle cx="524.9" cy="372.2" r="1.65" fill="#1430d8"/>
<circle cx="527.5" cy="372.3" r="1.65" fill="#1430d8"/>
<circle cx="537.0" cy="372.7" r="1.65" fill="#1430d8"/>
<circle cx="539.6" cy="372.8" r="1.65" fill="#1430d8"/>
<circle cx="542.2" cy="372.9" r="1.65" fill="#1430d8"/>
<circle cx="544.8" cy="373.0" r="1.65" fill="#1430d8"/>
<circle cx="551.9" cy="373.3" r="1.65" fill="#1430d8"/>
<circle cx="554.5" cy="373.4" r="1.65" fill="#1430d8"/>
<circle cx="565.0" cy="373.9" r="1.65" fill="#1430d8"/>
<circle cx="567.6" cy="374.0" r="1.65" fill="#1430d8"/>
<circle cx="570.2" cy="374.1" r="1.65" fill="#1430d8"/>
<circle cx="574.5" cy="374.3" r="1.65" fill="#1430d8"/>
<circle cx="577.1" cy="374.4" r="1.65" fill="#1430d8"/>
<circle cx="579.7" cy="374.5" r="1.65" fill="#1430d8"/>
<circle cx="587.6" cy="374.8" r="1.65" fill="#1430d8"/>
</g>
<path d="M231.3,271.3 V266.9 H335.1 V271.3 M283.2,266.9 V260.9" stroke="#3a3a3a" stroke-width="0.8" fill="none"/>
<path d="M345.7,272.6 V268.1 H415.4 V272.6 M380.5,268.1 V263.7" stroke="#3a3a3a" stroke-width="0.8" fill="none"/>
<path d="M225.8,339.5 L225.8,334.3 L316.3,340.8 L316.3,348 M272,337.5 L272.4,330.5" stroke="#3a3a3a" stroke-width="0.8" fill="none"/>
<path d="M172,354.7 V357 H220.7 V354.7 M196,357 V360.4" stroke="#3a3a3a" stroke-width="0.8" fill="none"/>
<path d="M320.7,364.7 V370.4 H414.5 V364.7 M367.8,370.4 V377.4" stroke="#3a3a3a" stroke-width="0.8" fill="none"/>
<path d="M397.6,205.4 V208.3 H494.4 V205.6 M445.5,208.3 V214" stroke="#3a3a3a" stroke-width="0.8" fill="none"/>
<path d="M383,284.7 L386.6,286 L381.4,317 L376.8,345.6 L371,345.6 M381.4,317 L387,318 M394,318 L418,308" stroke="#3a3a3a" stroke-width="0.8" fill="none"/>
<path d="M143.4,235.4C146.7,239.5 155.9,249.5 163.3,259.8C170.7,270.1 180.4,286.6 188.0,297.0C195.6,307.4 202.3,314.1 208.6,322.0C214.9,329.9 221.0,336.1 225.7,344.3C230.4,352.5 233.9,362.1 237.0,371.4C240.1,380.7 242.5,390.5 244.3,400.0C246.1,409.5 247.2,419.4 248.0,428.6C248.8,437.9 248.8,451.0 249.0,455.5" stroke="#f01818" stroke-width="3" stroke-dasharray="8 2.7" fill="none"/>
<path d="M377.5,130.0C377.5,135.0 377.8,150.3 377.5,160.0C377.2,169.7 377.2,178.0 375.5,188.0C373.8,198.0 370.3,211.7 367.0,220.0C363.7,228.3 359.0,232.2 355.7,238.0C352.4,243.8 349.4,249.8 347.0,254.5C344.6,259.2 343.7,260.6 341.4,266.4C339.1,272.1 335.9,278.6 333.0,289.0C330.1,299.4 326.7,316.6 324.3,329.0C321.9,341.4 321.0,351.4 318.6,363.6C316.2,375.8 312.6,389.6 309.9,402.3C307.2,415.0 305.7,424.6 302.4,439.7C299.1,454.8 292.1,484.1 290.0,493.0" stroke="#f01818" stroke-width="3" stroke-dasharray="8 2.7" fill="none"/>
<path d="M561.0,185.0C558.2,186.0 550.9,188.2 544.0,191.0C537.1,193.8 527.8,198.4 519.5,202.0C511.2,205.6 502.1,208.9 494.0,212.6C485.9,216.3 478.6,219.8 471.0,224.0C463.4,228.2 454.5,233.1 448.5,237.7C442.5,242.3 439.0,246.3 434.8,251.4C430.6,256.5 426.6,262.6 423.4,268.5C420.2,274.4 417.7,281.1 415.4,286.8C413.1,292.5 411.0,297.3 409.7,302.7C408.4,308.1 407.4,313.6 407.3,319.0C407.2,324.4 407.8,329.2 408.8,335.3C409.8,341.4 411.6,348.7 413.3,355.9C415.0,363.1 417.4,372.2 419.0,378.7C420.6,385.2 421.7,386.1 423.0,395.0C424.3,403.9 426.1,415.9 426.8,432.2C427.5,448.5 427.2,482.9 427.3,493.0" stroke="#f01818" stroke-width="3" stroke-dasharray="8 2.7" fill="none"/>
<path d="M532.0,300.5C532.7,305.0 535.0,318.7 536.0,327.3C537.0,335.9 537.7,343.9 537.7,352.2C537.7,360.5 536.8,369.1 536.0,377.0C535.2,384.9 533.8,392.8 532.7,399.5C531.6,406.2 530.0,414.5 529.4,417.5" stroke="#f01818" stroke-width="3" stroke-dasharray="8 2.7" fill="none"/>
<line x1="191.6" y1="302.6" x2="183.8" y2="308.5" stroke="#f01818" stroke-width="1.1"/><polygon points="179.5,311.7 182.3,306.5 185.3,310.5" fill="#f01818"/>
<line x1="232.9" y1="372.9" x2="229.0" y2="375.1" stroke="#f01818" stroke-width="1.1"/><polygon points="224.3,377.7 227.8,372.9 230.2,377.3" fill="#f01818"/>
<line x1="244.3" y1="415.7" x2="239.0" y2="418.7" stroke="#f01818" stroke-width="1.1"/><polygon points="234.3,421.4 237.8,416.6 240.2,420.9" fill="#f01818"/>
<line x1="361.4" y1="235.6" x2="367.1" y2="239.4" stroke="#f01818" stroke-width="1.1"/><polygon points="371.6,242.4 365.7,241.5 368.5,237.3" fill="#f01818"/>
<line x1="442.8" y1="244.5" x2="440.4" y2="241.1" stroke="#f01818" stroke-width="1.1"/><polygon points="437.4,236.6 442.5,239.6 438.4,242.5" fill="#f01818"/>
<line x1="377.5" y1="151.4" x2="383.5" y2="151.4" stroke="#f01818" stroke-width="1.3"/><polygon points="390.0,151.4 383.5,154.3 383.5,148.5" fill="#f01818"/>
<line x1="310.0" y1="402.8" x2="315.8" y2="402.8" stroke="#f01818" stroke-width="1.3"/><polygon points="322.3,402.8 315.8,405.7 315.8,399.9" fill="#f01818"/>
<line x1="297.4" y1="465.0" x2="305.8" y2="465.0" stroke="#f01818" stroke-width="1.3"/><polygon points="312.3,465.0 305.8,467.9 305.8,462.1" fill="#f01818"/>
<line x1="423.0" y1="396.0" x2="413.9" y2="396.0" stroke="#f01818" stroke-width="1.3"/><polygon points="407.4,396.0 413.9,393.1 413.9,398.9" fill="#f01818"/>
<line x1="427.0" y1="442.0" x2="421.3" y2="442.0" stroke="#f01818" stroke-width="1.3"/><polygon points="414.8,442.0 421.3,439.1 421.3,444.9" fill="#f01818"/>
<line x1="536.0" y1="319.6" x2="541.7" y2="319.6" stroke="#f01818" stroke-width="1.3"/><polygon points="548.2,319.6 541.7,322.5 541.7,316.7" fill="#f01818"/>
<line x1="533.5" y1="404.4" x2="538.2" y2="404.4" stroke="#f01818" stroke-width="1.3"/><polygon points="544.7,404.4 538.2,407.3 538.2,401.5" fill="#f01818"/>
<line x1="410.5" y1="173.0" x2="417.3" y2="176.4" stroke="#111" stroke-width="1.0"/><polygon points="422.9,179.3 416.1,178.9 418.5,174.0" fill="#111"/>
<line x1="519.3" y1="262.8" x2="496.9" y2="256.0" stroke="#111" stroke-width="1.0"/><polygon points="491.2,254.3 497.7,253.5 496.2,258.5" fill="#111"/>
<line x1="557.1" y1="343.8" x2="549.3" y2="351.0" stroke="#111" stroke-width="1.0"/><polygon points="545.3,354.8 547.6,349.2 551.0,352.9" fill="#111"/>
<line x1="500.4" y1="143.5" x2="492.2" y2="163.7" stroke="#f2f2f2" stroke-width="1.0"/><polygon points="489.8,169.7 489.6,162.6 494.8,164.7" fill="#f2f2f2"/>
<line x1="704.7" y1="116.8" x2="681.2" y2="150.7" stroke="#f2f2f2" stroke-width="1.0"/><polygon points="677.8,155.6 679.1,149.2 683.4,152.2" fill="#f2f2f2"/>
<text x="22.8" y="112.4" font-size="11.5" fill="#111" stroke="#111" stroke-width="0.2" font-weight="bold" textLength="100.2" lengthAdjust="spacingAndGlyphs" >Drift Sample grades</text>
<rect x="22.6" y="113.9" width="100.6" height="1.1" fill="#111"/>
<text x="53.9" y="127.4" font-size="11.0" fill="#232323" stroke="#232323" stroke-width="0.15" font-weight="normal" textLength="37.7" lengthAdjust="spacingAndGlyphs" >(Ag g/t)</text>
<circle cx="41.4" cy="144.3" r="5.2" fill="#e020d0" stroke="#4a5cc8" stroke-width="1.1"/>
<text x="54.4" y="148.9" font-size="13.1" fill="#1a1a1a" stroke="#1a1a1a" stroke-width="0.15" font-weight="normal" textLength="38.9" lengthAdjust="spacingAndGlyphs" >&gt; 1001</text>
<circle cx="41.4" cy="162" r="5.2" fill="#f21010" stroke="#3a4ab0" stroke-width="1.2"/>
<text x="53.2" y="166.8" font-size="13.1" fill="#1a1a1a" stroke="#1a1a1a" stroke-width="0.15" font-weight="normal" textLength="55.3" lengthAdjust="spacingAndGlyphs" >501-1000</text>
<circle cx="41.4" cy="179.9" r="5.2" fill="#f6f210" stroke="#5565b5" stroke-width="1.2"/>
<text x="53.6" y="184.7" font-size="13.1" fill="#1a1a1a" stroke="#1a1a1a" stroke-width="0.15" font-weight="normal" textLength="48.4" lengthAdjust="spacingAndGlyphs" >251-500</text>
<circle cx="41.4" cy="197.3" r="5.2" fill="#18d428" stroke="#2f6a8a" stroke-width="1.1"/>
<text x="54.6" y="202.1" font-size="13.1" fill="#1a1a1a" stroke="#1a1a1a" stroke-width="0.15" font-weight="normal" textLength="41.0" lengthAdjust="spacingAndGlyphs" >51-250</text>
<circle cx="41.4" cy="215.1" r="5.2" fill="#4391e6" stroke="#131d40" stroke-width="1.5"/>
<text x="54.6" y="219.9" font-size="13.1" fill="#1a1a1a" stroke="#1a1a1a" stroke-width="0.15" font-weight="normal" textLength="25.2" lengthAdjust="spacingAndGlyphs" >&lt; 50</text>
<text x="491.3" y="108.3" font-size="11.6" fill="#f6f6f6" stroke="#f6f6f6" stroke-width="0.25" font-weight="normal" textLength="48.2" lengthAdjust="spacingAndGlyphs" >Formo Pit</text>
<text x="460.9" y="123.8" font-size="11.6" fill="#f6f6f6" stroke="#f6f6f6" stroke-width="0.25" font-weight="normal" textLength="109.1" lengthAdjust="spacingAndGlyphs" >Historic Production of</text>
<text x="447.0" y="139.8" font-size="11.6" fill="#f6f6f6" stroke="#f6f6f6" stroke-width="0.25" font-weight="normal" textLength="136.7" lengthAdjust="spacingAndGlyphs" >50,620 oz Ag (5,092 g/t Ag)</text>
<text x="678.8" y="106.5" font-size="11.6" fill="#1a1a1a" stroke="#1a1a1a" stroke-width="0.25" font-weight="normal" textLength="98.1" lengthAdjust="spacingAndGlyphs" >Silver Trail Highway</text>
<text x="232.8" y="253.7" font-size="10.15" fill="#232323" stroke="#232323" stroke-width="0.12" font-weight="normal" textLength="95.2" lengthAdjust="spacingAndGlyphs" >69m Avg. 580 /t Ag Eq.</text>
<text x="352.8" y="261.4" font-size="10.15" fill="#232323" stroke="#232323" stroke-width="0.12" font-weight="normal" textLength="104.9" lengthAdjust="spacingAndGlyphs" >33m Avg. 1795 g/t Ag Eq.</text>
<text x="446.3" y="230.7" font-size="10.15" fill="#232323" stroke="#232323" stroke-width="0.12" font-weight="normal" textLength="171.7" lengthAdjust="spacingAndGlyphs" >5 Samples over 45m Avg. 7459 g/t Ag Eq.</text>
<text x="526.9" y="266.0" font-size="9.7" fill="#232323" stroke="#232323" stroke-width="0.1" font-weight="normal" textLength="49.9" lengthAdjust="spacingAndGlyphs" >3d vein shells</text>
<text x="716.7" y="279.2" font-size="10.15" fill="#232323" stroke="#232323" stroke-width="0.12" font-weight="normal" textLength="43.7" lengthAdjust="spacingAndGlyphs" >2700 Level</text>
<text x="424.0" y="311.7" font-size="10.15" fill="#232323" stroke="#232323" stroke-width="0.12" font-weight="normal" textLength="107.4" lengthAdjust="spacingAndGlyphs" >45m avg. 2,602 g/t Ag Eq.</text>
<text x="228.0" y="324.8" font-size="10.15" fill="#232323" stroke="#232323" stroke-width="0.12" font-weight="normal" textLength="98.9" lengthAdjust="spacingAndGlyphs" >70m Avg. 850 g/t Ag Eq.</text>
<text x="564.6" y="348.4" font-size="10.15" fill="#232323" stroke="#232323" stroke-width="0.12" font-weight="normal" textLength="103.0" lengthAdjust="spacingAndGlyphs" >4m Avg. 3,092 g/t Ag Eq.</text>
<text x="115.2" y="373.7" font-size="10.15" fill="#232323" stroke="#232323" stroke-width="0.12" font-weight="normal" textLength="106.8" lengthAdjust="spacingAndGlyphs" >25m Avg. 3,078 g/t Ag Eq.</text>
<text x="317.8" y="390.0" font-size="10.15" fill="#232323" stroke="#232323" stroke-width="0.12" font-weight="normal" textLength="107.4" lengthAdjust="spacingAndGlyphs" >44m avg. 2,258 g/t Ag Eq.</text>
<text x="713.9" y="383.1" font-size="10.15" fill="#232323" stroke="#232323" stroke-width="0.12" font-weight="normal" textLength="44.1" lengthAdjust="spacingAndGlyphs" >2600 Level</text>
<text x="63.3" y="293.4" font-size="17.1" fill="#f41c1c" stroke="#f41c1c" stroke-width="0.25" font-weight="normal" textLength="40.2" lengthAdjust="spacingAndGlyphs" >Open</text>
<text x="29.4" y="310.8" font-size="12.6" fill="#f41c1c" stroke="#f41c1c" stroke-width="0.25" font-weight="normal" textLength="99.6" lengthAdjust="spacingAndGlyphs" >&gt; 1000 g/t Ag EQ</text>
<text x="581.5" y="315.6" font-size="17.1" fill="#f41c1c" stroke="#f41c1c" stroke-width="0.25" font-weight="normal" textLength="40.3" lengthAdjust="spacingAndGlyphs" >Open</text>
<text x="145.0" y="423.4" font-size="17.1" fill="#f41c1c" stroke="#f41c1c" stroke-width="0.25" font-weight="normal" textLength="40.7" lengthAdjust="spacingAndGlyphs" >Open</text>
<text x="346.7" y="436.7" font-size="17.1" fill="#f41c1c" stroke="#f41c1c" stroke-width="0.25" font-weight="normal" textLength="40.3" lengthAdjust="spacingAndGlyphs" >Open</text>
<text x="312.8" y="457.0" font-size="12.6" fill="#f41c1c" stroke="#f41c1c" stroke-width="0.25" font-weight="normal" textLength="98.5" lengthAdjust="spacingAndGlyphs" >&gt; 1000 g/t Ag EQ</text>
<text x="572.8" y="443.4" font-size="17.1" fill="#f41c1c" stroke="#f41c1c" stroke-width="0.25" font-weight="normal" textLength="41.0" lengthAdjust="spacingAndGlyphs" >Open</text>
<text x="45.6" y="501.0" font-size="19.3" fill="#111" stroke="#111" stroke-width="0.25" font-weight="normal" textLength="27.0" lengthAdjust="spacingAndGlyphs" >SW</text>
<text x="742.0" y="501.0" font-size="19.3" fill="#111" stroke="#111" stroke-width="0.25" font-weight="normal" textLength="21.0" lengthAdjust="spacingAndGlyphs" >NE</text>
</svg></body></html>
